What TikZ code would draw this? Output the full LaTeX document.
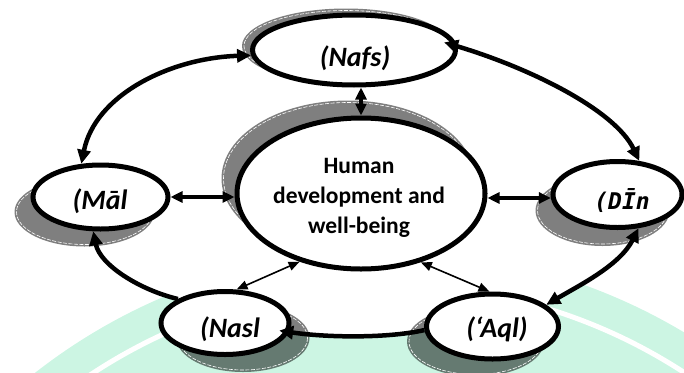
\documentclass[tikz,border=0pt]{standalone}
\usepackage{fontspec}
\setmainfont{Carlito}
\newfontfamily\dinfont{DejaVu Sans Mono}[BoldItalicFont={DejaVu Sans Mono Bold Oblique}]
\usetikzlibrary{shapes.geometric,arrows.meta}
\definecolor{mint}{RGB}{204,245,227}
\begin{document}
\begin{tikzpicture}[x=1pt,y=-1pt,
  ell/.style={ellipse, draw=black, line width=5pt, fill=white, inner sep=0pt},
  shadowfill/.style={fill=black, fill opacity=0.5},
  shadowline/.style={draw=white, line width=0.6pt, dash pattern=on 4pt off 1.5pt},
  thickarc/.style={line width=4.5pt, >={Triangle[length=14pt,width=13pt]}},
  midarrow/.style={line width=3.5pt, >={Triangle[length=12pt,width=11pt]}, <->},
  thinarrow/.style={line width=1.6pt, >={Triangle[length=11pt,width=9pt]}, <->},
  lab/.style={font=\fontsize{28}{30}\selectfont\bfseries\itshape, inner sep=0pt},
  ctext/.style={font=\fontsize{23.5}{30}\selectfont\bfseries, inner sep=0pt, anchor=base}
]
\useasboundingbox (0,0) rectangle (684,372);
% watermark background
\begin{scope}
  \clip (0,0) rectangle (684,372);
  \fill[mint] (389,826) circle [radius=575];
  \draw[white, line width=5pt] (389,826) circle [radius=541];
\end{scope}
% white region inside the outer ring
\fill[white] (354,50) -- (250,55) .. controls (170,58) and (95,95) .. (80,162)
  -- (100,197) -- (93,235) .. controls (100,265) and (140,290) .. (175,298)
  -- (225,323) -- (289,332) .. controls (330,338) and (390,338) .. (426,329)
  -- (492,326) -- (551,304) .. controls (580,285) and (620,265) .. (641,232)
  -- (617,194) -- (640,160) .. controls (615,110) and (530,68) .. (460,50) -- cycle;
% shadows
\fill[shadowfill] (346,46) ellipse [x radius=104, y radius=37.5];
\draw[shadowline] (346,46) ellipse [x radius=102, y radius=35.5];
\fill[shadowfill] (348,178.5) ellipse [x radius=126.5, y radius=78];
\draw[shadowline] (348,178.5) ellipse [x radius=124.5, y radius=76];
\fill[shadowfill] (84.5,212) ellipse [x radius=70, y radius=34.5];
\draw[shadowline] (84.5,212) ellipse [x radius=68, y radius=32.5];
\fill[shadowfill] (602.5,210.5) ellipse [x radius=67, y radius=35.5];
\draw[shadowline] (602.5,210.5) ellipse [x radius=65, y radius=33.5];
\fill[shadowfill] (243,338) ellipse [x radius=66.5, y radius=34];
\draw[shadowline] (243,338) ellipse [x radius=64.5, y radius=32];
\fill[shadowfill] (475.5,341.5) ellipse [x radius=68.5, y radius=35];
\draw[shadowline] (475.5,341.5) ellipse [x radius=66.5, y radius=33];
% ellipses
\node[ell, minimum width=203pt, minimum height=70pt] (nafs) at (354,50) {};
\node[ell, minimum width=248pt, minimum height=151pt] (hd) at (361,193.5) {};
\node[ell, minimum width=135pt, minimum height=64pt] (mal) at (100.5,197) {};
\node[ell, minimum width=129pt, minimum height=66pt] (din) at (617.5,194.5) {};
\node[ell, minimum width=128pt, minimum height=63pt] (nasl) at (225,323) {};
\node[ell, minimum width=132pt, minimum height=65pt] (aql) at (492.5,326.5) {};
% outer ring connectors
\draw[thickarc, <->] (nafs.183) .. controls (170,58) and (95,95) .. (mal.120);
\draw[thickarc, <->, shorten <=-14pt] (nafs.2) .. controls (530,68) and (615,110) .. (din.57);
\draw[thickarc, <-] (mal.258) .. controls (100,265) and (140,290) .. (nasl.153);
\draw[thickarc, ->, shorten >=-10pt] (aql.183) .. controls (390,338) and (330,338) .. (nasl.-8);
\draw[thickarc, <->] (din.-58) .. controls (620,265) and (580,285) .. (aql.22);
% spokes
\draw[midarrow] (hd.north) -- (hd.north |- nafs.south);
\draw[midarrow] (mal.east) -- (mal.east -| hd.west);
\draw[midarrow] (din.183) -- (din.183 -| hd.east);
\draw[thinarrow] (nasl.71) -- (hd.228);
\draw[thinarrow] (aql.95) -- (hd.-49);
% labels
\node[lab] (nafs-t) at (355,58.5) {(Nafs)};
\node[lab] (mal-t) at (100,201) {(Māl};
\node[lab] (nasl-t) at (230,329) {(Nasl};
\node[lab] (aql-t) at (497,329) {(‘Aql)};
\node[inner sep=0pt, font=\dinfont\fontsize{23}{26}\selectfont\bfseries\itshape] (din-t) at (622,201) {(DĪn};
\node[ctext] (hd-1) at (359,173.3) {Human};
\node[ctext] (hd-2) at (359,203.3) {development and};
\node[ctext] (hd-3) at (359,233.3) {well-being};
\end{tikzpicture}
\end{document}
